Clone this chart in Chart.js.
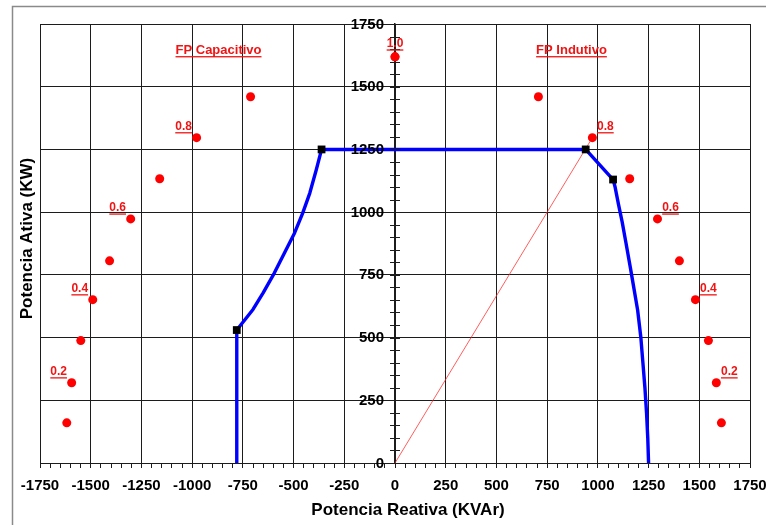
<!DOCTYPE html>
<html><head><meta charset="utf-8">
<script src="https://cdn.jsdelivr.net/npm/chart.js@4.4.1/dist/chart.umd.min.js"></script>
<style>html,body{margin:0;padding:0;background:#fff;overflow:hidden}#wrap{width:766px;height:525px;position:relative}</style>
</head><body><div id="wrap"><canvas id="c" width="766" height="525"></canvas></div>
<script>
const FONT = "'Liberation Sans', Arial, sans-serif";
const RED = '#f01414';

// Power-factor labels (shown ones only)
const pfShown = ['1.0', '0.8', '0.6', '0.4', '0.2'];
const pfLabels = ['1.0', '0.9', '0.8', '0.7', '0.6', '0.5', '0.4', '0.3', '0.2', '0.1'];

// Capacitive side power-factor points (KVAr, KW)
const capQ = [0, -712, -978, -1160, -1303, -1407, -1490, -1549, -1594, -1618];
const capP = [1619, 1460, 1297, 1133, 973, 806, 651, 488, 320, 160];
// Inductive side power-factor points
const indQ = [0, 707, 973, 1157, 1294, 1402, 1481, 1545, 1584, 1609];
const indP = [1619, 1460, 1297, 1133, 973, 806, 651, 488, 320, 160];

// Capability curve
const curveQ = [-780, -780, -700, -650, -595, -545, -495, -455, -420, -388, -362, 940, 1075, 1085, 1102, 1120, 1138, 1160, 1178, 1196, 1212, 1222, 1232, 1240, 1246, 1250];
const curveP = [0, 530, 612, 678, 757, 837, 917, 996, 1076, 1169, 1250, 1250, 1130, 1100, 1030, 960, 880, 780, 695, 610, 500, 400, 300, 200, 100, 0];
const cornerQ = [-780, -362, 940, 1075];
const cornerP = [530, 1250, 1250, 1130];

// PF 0.8 reference line
const pfLineQ = [0, 973];
const pfLineP = [0, 1297];

// Tick labels
const xTickVals = [-1750, -1500, -1250, -1000, -750, -500, -250, 0, 250, 500, 750, 1000, 1250, 1500, 1750];
const yTickVals = [0, 250, 500, 750, 1000, 1250, 1500, 1750];

const xTitle = 'Potencia Reativa (KVAr)';
const yTitle = 'Potencia Ativa (KW)';
const capTitle = 'FP Capacitivo';
const indTitle = 'FP Indutivo';

const pts = (xs, ys) => xs.map((x, i) => ({x, y: ys[i]}));

const gridCol = (vals) => (ctx) => (ctx.tick && vals.includes(ctx.tick.value)) ? '#1c1c1c' : 'rgba(0,0,0,0)';

const decor = {
  id: 'decor',
  beforeDraw(chart) {
    const c = chart.ctx;
    c.save();
    c.strokeStyle = '#8a8a8a';
    c.lineWidth = 1.5;
    c.beginPath();
    c.moveTo(12.5, 525); c.lineTo(12.5, 6.5); c.lineTo(766, 6.5);
    c.stroke();
    c.restore();
  },
  afterDraw(chart) {
    const c = chart.ctx, xs = chart.scales.x, ys = chart.scales.y;
    const x0 = xs.getPixelForValue(0);
    c.save();
    c.strokeStyle = '#1c1c1c';
    c.lineWidth = 1;
    ys.ticks.forEach(t => {
      const y = Math.round(ys.getPixelForValue(t.value)) + 0.5;
      c.beginPath(); c.moveTo(x0 - 5, y); c.lineTo(x0 + 5, y); c.stroke();
    });
    // y tick labels next to the central axis
    c.fillStyle = '#000';
    c.font = 'bold 15px ' + FONT;
    c.textAlign = 'right';
    c.textBaseline = 'middle';
    yTickVals.forEach(v => c.fillText(String(v), x0 - 11, ys.getPixelForValue(v) + 0.5));
    // axis titles
    c.font = 'bold 17px ' + FONT;
    c.textAlign = 'center';
    c.fillText(xTitle, 408, 510);
    c.save();
    c.translate(27, 238.5);
    c.rotate(-Math.PI / 2);
    c.fillText(yTitle, 0, 0);
    c.restore();
    // red labels
    c.fillStyle = RED;
    c.textAlign = 'center';
    c.textBaseline = 'alphabetic';
    function ul(text, cx, by) {
      const w = c.measureText(text).width;
      c.fillText(text, cx, by);
      c.fillRect(cx - w / 2, by + 2.5, w, 1.3);
    }
    c.font = 'bold 12px ' + FONT;
    pfLabels.forEach((lab, i) => {
      if (!pfShown.includes(lab)) return;
      if (i === 0) {
        ul(lab, xs.getPixelForValue(capQ[0]), ys.getPixelForValue(capP[0]) - 10);
        return;
      }
      ul(lab, xs.getPixelForValue(capQ[i]) - 13, ys.getPixelForValue(capP[i]) - 8);
      ul(lab, xs.getPixelForValue(indQ[i]) + 13, ys.getPixelForValue(indP[i]) - 8);
    });
    c.font = 'bold 13px ' + FONT;
    ul(capTitle, xs.getPixelForValue(-870), ys.getPixelForValue(1650) + 4.5);
    ul(indTitle, xs.getPixelForValue(870), ys.getPixelForValue(1650) + 4.5);
    c.restore();
  }
};

new Chart(document.getElementById('c'), {
  type: 'scatter',
  data: {
    datasets: [
      { data: pts(cornerQ, cornerP), showLine: false, pointStyle: 'rect', pointRadius: 5.5, backgroundColor: '#000', borderColor: '#000', borderWidth: 0, order: 0 },
      { data: pts(curveQ, curveP), showLine: true, borderColor: '#0000ff', borderWidth: 3.4, pointRadius: 0, tension: 0, borderJoinStyle: 'round', order: 1 },
      { data: pts(capQ, capP), showLine: false, pointRadius: 4.5, backgroundColor: '#ff0000', borderColor: '#ff0000', borderWidth: 0, order: 2 },
      { data: pts(indQ, indP), showLine: false, pointRadius: 4.5, backgroundColor: '#ff0000', borderColor: '#ff0000', borderWidth: 0, order: 2 },
      { data: pts(pfLineQ, pfLineP), showLine: true, borderColor: 'rgba(255,40,40,0.75)', borderWidth: 1, pointRadius: 0, order: 3 }
    ]
  },
  options: {
    responsive: false,
    animation: false,
    events: [],
    layout: { padding: { top: 24, right: 16, left: 12, bottom: 0 } },
    plugins: { legend: { display: false }, tooltip: { enabled: false } },
    scales: {
      x: {
        type: 'linear', position: 'bottom', min: -1750, max: 1750,
        afterFit: s => { s.height = 62; s.paddingLeft = 0; s.paddingRight = 0; },
        ticks: { stepSize: 50, autoSkip: false, maxRotation: 0, padding: 9, color: '#000',
          font: { family: FONT, size: 15, weight: 'bold' },
          callback: v => xTickVals.includes(v) ? String(v) : '' },
        grid: { color: gridCol(xTickVals), tickColor: '#1c1c1c', tickLength: 5, lineWidth: 1 },
        border: { display: true, color: '#1c1c1c', width: 1 },
        title: { display: false }
      },
      y: {
        type: 'linear', position: { x: 0 }, min: 0, max: 1750,
        ticks: { stepSize: 50, autoSkip: false, display: false },
        grid: { color: gridCol(yTickVals), drawTicks: false, lineWidth: 1 },
        border: { display: true, color: '#1c1c1c', width: 1.5 }
      },
      yt: {
        type: 'linear', position: 'left', min: 0, max: 1,
        afterFit: s => { s.width = 28; },
        ticks: { display: false },
        grid: { display: false },
        border: { display: false },
        title: { display: false }
      }
    }
  },
  plugins: [decor]
});
</script>
</body></html>
